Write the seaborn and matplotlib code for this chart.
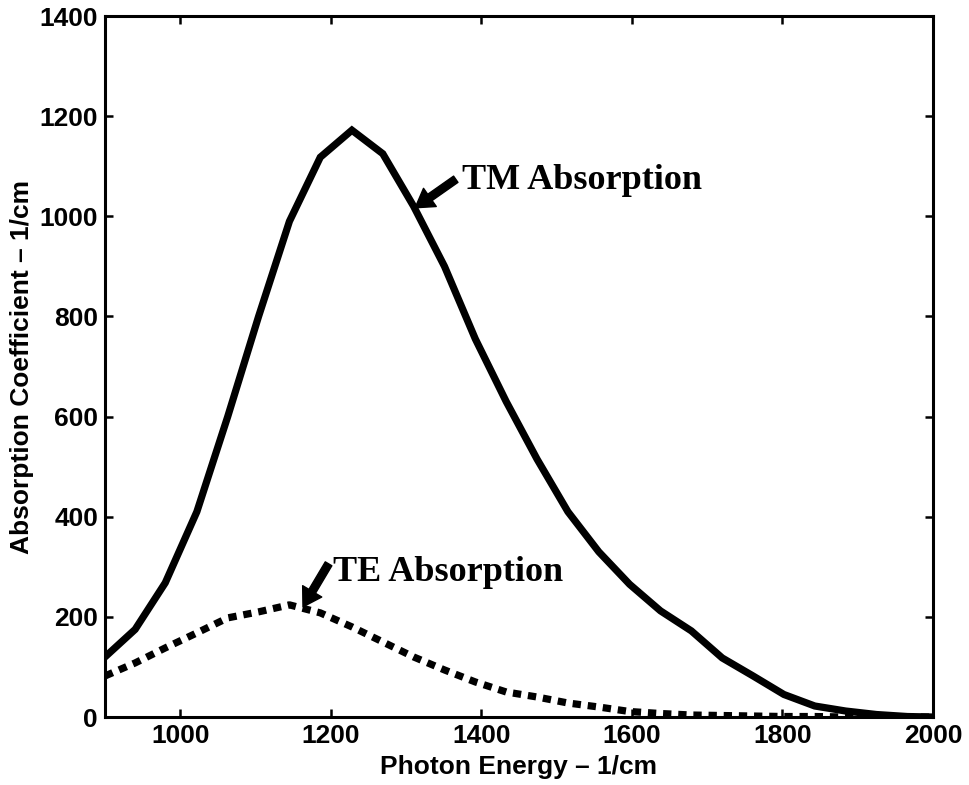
import matplotlib
matplotlib.use("Agg")
import matplotlib.pyplot as plt
import seaborn as sns
import pandas as pd

# Data
energy = [900, 940, 980, 1022, 1063, 1104, 1145, 1186, 1228, 1269, 1310, 1351, 1392,
          1433, 1474, 1515, 1556, 1597, 1638, 1679, 1720, 1761, 1802, 1843, 1884,
          1925, 1966, 2000]
tm_absorption = [120, 175, 268, 410, 600, 800, 990, 1118, 1172, 1125, 1020, 900, 755,
                 630, 515, 410, 330, 265, 212, 172, 118, 82, 45, 22, 12, 5, 1, 0]
te_absorption = [82, 108, 138, 168, 198, 210, 224, 208, 180, 150, 120, 94, 70,
                 50, 40, 28, 20, 11, 7, 4, 3, 2, 1, 1, 0, 0, 0, 0]
x_ticks = [1000, 1200, 1400, 1600, 1800, 2000]
y_ticks = [0, 200, 400, 600, 800, 1000, 1200, 1400]

sns.set_theme(style="ticks")
plt.rcParams['font.family'] = ['Liberation Sans', 'DejaVu Sans']
plt.rcParams['font.weight'] = 'bold'
for key in ['text.color', 'axes.labelcolor', 'xtick.color', 'ytick.color',
            'axes.edgecolor']:
    plt.rcParams[key] = 'black'

df_tm = pd.DataFrame({"energy": energy, "value": tm_absorption})
df_te = pd.DataFrame({"energy": energy, "value": te_absorption})

fig = plt.figure(figsize=(9.69, 7.85), dpi=100)
ax = fig.add_axes([0.1084, 0.0866, 0.9628 - 0.1084, 0.9796 - 0.0866])

sns.lineplot(data=df_tm, x="energy", y="value", ax=ax, color="black",
             linewidth=5.2, solid_joinstyle="miter")
sns.lineplot(data=df_te, x="energy", y="value", ax=ax, color="black",
             linewidth=5.2, linestyle=(0, (1.15, 0.95)), dash_capstyle="butt")

ax.set_xlim(900, 2000)
ax.set_ylim(0, 1400)
ax.set_xticks(x_ticks)
ax.set_yticks(y_ticks)
ax.tick_params(direction="in", length=6, width=1.8, top=True, right=True,
               labelsize=19, pad=5, colors="black")
for lbl in ax.get_xticklabels() + ax.get_yticklabels():
    lbl.set_fontweight("bold")
for sp in ax.spines.values():
    sp.set_linewidth(2.2)
    sp.set_color("black")

ax.set_xlabel("Photon Energy – 1/cm", fontsize=19, fontweight="bold", labelpad=5,
              color="black")
ax.set_ylabel("Absorption Coefficient – 1/cm", fontsize=19, fontweight="bold",
              labelpad=4, color="black")

serif = ['Liberation Serif', 'DejaVu Serif']
ax.text(1374, 1072, "TM Absorption", family=serif, fontsize=26, fontweight="bold",
        ha="left", va="center", color="black")
ax.text(1203, 288, "TE Absorption", family=serif, fontsize=26, fontweight="bold",
        ha="left", va="center", color="black")

arrow = dict(facecolor="black", edgecolor="black", width=5.5, headwidth=16,
             headlength=13, shrink=0)
ax.annotate("", xy=(1312, 1017), xytext=(1366, 1074), arrowprops=arrow)
ax.annotate("", xy=(1163, 220), xytext=(1197, 306), arrowprops=arrow)

fig.savefig("out.png", dpi=100, facecolor="white")
